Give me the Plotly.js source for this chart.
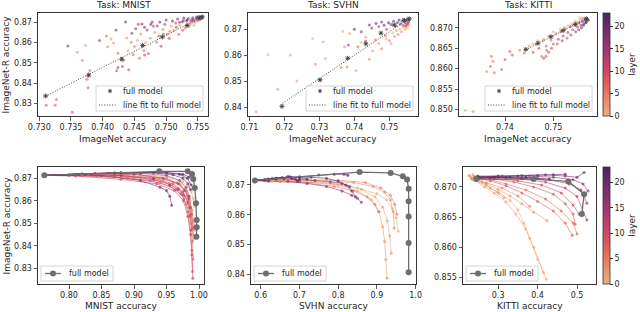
<!DOCTYPE html>
<html><head><meta charset="utf-8">
<script src="https://cdn.plot.ly/plotly-3.0.1.min.js"></script>
<style>html,body{margin:0;padding:0;background:#fff}#chart{width:640px;height:312px}</style>
</head><body><div id="chart"></div>
<script>
// ---------- top row: scatter of (ImageNet acc, ImageNet-R acc) coloured by layer ----------
const mnistTopX = [0.7311,0.7325,0.7327,0.7352,0.7345,0.7360,0.7373,0.7368,0.7377,0.7375,0.7377,0.7380,0.7395,0.7406,0.7408,0.7413,0.7421,0.7417,0.7424,0.7424,0.7422,0.7431,0.7433,0.7440,0.7441,0.7438,0.7445,0.7448,0.7450,0.7452,0.7455,0.7458,0.7460,0.7462,0.7465,0.7468,0.7470,0.7472,0.7475,0.7478,0.7480,0.7482,0.7485,0.7488,0.7490,0.7492,0.7495,0.7498,0.7500,0.7502,0.7505,0.7508,0.7510,0.7512,0.7515,0.7518,0.7520,0.7522,0.7525,0.7528,0.7530,0.7532,0.7535,0.7538,0.7540,0.7542,0.7545,0.7547,0.7548,0.7550,0.7552,0.7553,0.7555,0.7556,0.7557,0.7544,0.7536,0.7526,0.7516,0.7506,0.7496,0.7486,0.7476,0.7466,0.7456,0.7446,0.7436,0.7552,0.7549,0.7543,0.7539,0.7533,0.7527,0.7521,0.7554,0.7550,0.7546,0.7541,0.7534,0.7466];
const mnistTopY = [0.8290,0.8290,0.8318,0.8255,0.8583,0.8552,0.8585,0.8513,0.8435,0.8418,0.8376,0.8462,0.8610,0.8632,0.8579,0.8618,0.8662,0.8598,0.8547,0.8477,0.8461,0.8482,0.8512,0.8560,0.8465,0.8622,0.8601,0.8541,0.8581,0.8668,0.8611,0.8522,0.8642,0.8692,0.8561,0.8601,0.8662,0.8546,0.8621,0.8702,0.8681,0.8651,0.8602,0.8632,0.8701,0.8582,0.8666,0.8691,0.8711,0.8641,0.8621,0.8681,0.8706,0.8661,0.8696,0.8716,0.8641,0.8686,0.8701,0.8721,0.8671,0.8706,0.8719,0.8691,0.8713,0.8723,0.8701,0.8716,0.8726,0.8709,0.8721,0.8713,0.8727,0.8719,0.8724,0.8686,0.8679,0.8661,0.8676,0.8656,0.8642,0.8682,0.8691,0.8676,0.8691,0.8646,0.8702,0.8727,0.8719,0.8712,0.8705,0.8712,0.8708,0.8700,0.8717,0.8716,0.8708,0.8698,0.8695,0.8538];
const mnistTopLayer = [9,8,7,10,19,3,2,5,10,8,9,6,17,6,4,2,19,3,6,13,11,12,8,1,12,3,5,8,4,16,2,7,4,19,6,1,14,9,3,18,11,2,5,8,20,10,4,14,16,6,12,1,21,3,9,18,7,2,13,22,5,10,19,4,15,20,8,17,23,11,21,6,22,14,18,1,3,9,12,5,7,16,21,18,13,16,20,23,20,22,17,23,19,15,10,2,0,0,1,12];
const mnistFullTopX = [0.7310,0.7378,0.7430,0.7463,0.7494,0.7533,0.7552,0.7557];
const mnistFullTopY = [0.8336,0.8440,0.8518,0.8586,0.8628,0.8684,0.8722,0.8727];
const mnistFitX = [0.7310,0.7558];
const mnistFitY = [0.8335,0.8728];

const svhnTopX = [0.7119,0.7153,0.7181,0.7217,0.7236,0.7281,0.7289,0.7311,0.7317,0.7367,0.7386,0.7372,0.7362,0.7405,0.7379,0.7410,0.7420,0.7432,0.7443,0.7452,0.7460,0.7470,0.7478,0.7491,0.7500,0.7510,0.7515,0.7520,0.7525,0.7530,0.7535,0.7540,0.7545,0.7548,0.7552,0.7555,0.7489,0.7505,0.7443,0.7450,0.7462,0.7470,0.7478,0.7485,0.7492,0.7498,0.7505,0.7512,0.7518,0.7523,0.7528,0.7532,0.7537,0.7541,0.7545,0.7549,0.7552,0.7555,0.7557,0.7550,0.7540,0.7547,0.7553,0.7383,0.7420,0.7432,0.7400];
const svhnTopY = [0.8384,0.8602,0.8470,0.8601,0.8502,0.8664,0.8566,0.8652,0.8588,0.8692,0.8684,0.8633,0.8554,0.8542,0.8555,0.8633,0.8650,0.8670,0.8585,0.8617,0.8660,0.8645,0.8625,0.8663,0.8657,0.8686,0.8672,0.8695,0.8680,0.8701,0.8690,0.8708,0.8700,0.8712,0.8705,0.8715,0.8675,0.8645,0.8716,0.8705,0.8722,0.8710,0.8728,0.8715,0.8700,0.8725,0.8718,0.8730,0.8712,0.8726,0.8735,0.8720,0.8730,0.8738,0.8725,0.8733,0.8740,0.8728,0.8736,0.8720,0.8715,0.8712,0.8722,0.8640,0.8690,0.8655,0.8700];
const svhnTopLayer = [2,1,3,1,2,0,3,1,2,0,1,3,4,2,5,6,0,2,3,1,5,2,4,1,3,0,2,1,4,0,3,2,1,5,0,3,6,2,19,16,21,14,18,20,12,22,17,19,15,21,23,18,20,22,16,19,23,21,22,13,11,9,10,15,17,13,20];
const svhnFullTopX = [0.7193,0.7302,0.7381,0.7433,0.7476,0.7514,0.7543,0.7557];
const svhnFullTopY = [0.8405,0.8506,0.8589,0.8644,0.8685,0.8716,0.8734,0.8740];
const svhnFitX = [0.7195,0.7558];
const svhnFitY = [0.8417,0.8742];

const kittiTopX = [0.7318,0.7334,0.7372,0.7375,0.7370,0.7362,0.7378,0.7393,0.7400,0.7410,0.7415,0.7430,0.7440,0.7450,0.7458,0.7465,0.7470,0.7478,0.7485,0.7490,0.7495,0.7500,0.7505,0.7510,0.7515,0.7520,0.7525,0.7530,0.7535,0.7540,0.7545,0.7550,0.7553,0.7557,0.7560,0.7563,0.7566,0.7568,0.7570,0.7565,0.7559,0.7555,0.7549,0.7561,0.7554,0.7545,0.7538,0.7530,0.7522,0.7514,0.7500,0.7490,0.7480,0.7468,0.7458,0.7572,0.7567,0.7562,0.7558,0.7552,0.7546,0.7536,0.7528,0.7518,0.7508,0.7496,0.7486,0.7476,0.7480,0.7485];
const kittiTopY = [0.8498,0.8495,0.8630,0.8618,0.8605,0.8593,0.8590,0.8598,0.8622,0.8642,0.8633,0.8645,0.8638,0.8655,0.8640,0.8660,0.8650,0.8668,0.8655,0.8640,0.8670,0.8660,0.8685,0.8672,0.8690,0.8680,0.8698,0.8688,0.8703,0.8695,0.8708,0.8702,0.8712,0.8706,0.8715,0.8710,0.8718,0.8714,0.8720,0.8722,0.8722,0.8719,0.8714,0.8724,0.8725,0.8716,0.8710,0.8705,0.8700,0.8696,0.8690,0.8680,0.8672,0.8669,0.8660,0.8718,0.8712,0.8706,0.8700,0.8695,0.8690,0.8682,0.8675,0.8668,0.8660,0.8650,0.8645,0.8630,0.8625,0.8630];
const kittiTopLayer = [2,4,6,5,7,3,6,8,9,8,10,4,7,3,9,5,11,2,8,10,6,9,4,12,7,13,5,11,15,9,17,14,19,16,21,18,22,20,23,12,3,1,0,2,0,2,1,0,3,1,0,2,1,0,2,21,23,20,19,16,14,13,10,12,9,11,8,7,10,9];
const kittiFullTopX = [0.7443,0.7468,0.7495,0.7520,0.7545,0.7568];
const kittiFullTopY = [0.8647,0.8662,0.8678,0.8693,0.8708,0.8722];
const kittiFitX = [0.7443,0.7568];
const kittiFitY = [0.8646,0.8722];

// ---------- bottom row: one line per layer (task acc, ImageNet-R acc) ----------
const mnistLineLayers = [0,2,4,5,6,8,9,10,12,14,15,16,18,20,22,23];
const mnistLineX = [
 [0.762,0.86,0.93,0.96,0.975,0.983,0.988,0.991,0.993],
 [0.762,0.85,0.92,0.955,0.972,0.981,0.986,0.989,0.991,0.992],
 [0.762,0.84,0.91,0.95,0.970,0.980,0.985,0.988,0.990],
 [0.762,0.82,0.89,0.94,0.966,0.978,0.985,0.989,0.992,0.994],
 [0.762,0.83,0.90,0.945,0.968,0.979,0.985,0.988,0.990,0.991],
 [0.762,0.82,0.89,0.94,0.965,0.977,0.983,0.987,0.989,0.990],
 [0.762,0.80,0.87,0.925,0.955,0.972,0.981,0.986,0.989],
 [0.762,0.81,0.88,0.935,0.962,0.976,0.983,0.987,0.989,0.9905],
 [0.762,0.80,0.87,0.93,0.96,0.975,0.983,0.988,0.991],
 [0.762,0.82,0.90,0.945,0.968,0.978,0.984,0.987],
 [0.762,0.81,0.88,0.93,0.955,0.968,0.976],
 [0.762,0.84,0.91,0.95,0.97,0.98,0.985],
 [0.762,0.85,0.91,0.94,0.95,0.955,0.958],
 [0.762,0.86,0.93,0.96,0.975,0.983,0.987],
 [0.762,0.87,0.94,0.97,0.982,0.988],
 [0.762,0.88,0.95,0.975,0.985]];
const mnistLineY = [
 [0.8713,0.8718,0.8712,0.8700,0.8685,0.8665,0.8640,0.8610,0.8575],
 [0.8713,0.8716,0.8705,0.8690,0.8670,0.8640,0.8600,0.8550,0.8490,0.8430],
 [0.8713,0.8720,0.8715,0.8700,0.8675,0.8640,0.8590,0.8520,0.8450],
 [0.8713,0.8716,0.8712,0.8700,0.8680,0.8650,0.8610,0.8560,0.8510,0.8470],
 [0.8713,0.8714,0.8703,0.8685,0.8655,0.8620,0.8570,0.8500,0.8420,0.8340],
 [0.8713,0.8712,0.8700,0.8680,0.8650,0.8610,0.8550,0.8470,0.8380,0.8285],
 [0.8713,0.8712,0.8705,0.8690,0.8665,0.8630,0.8585,0.8530,0.8470],
 [0.8713,0.8710,0.8695,0.8675,0.8645,0.8600,0.8530,0.8450,0.8360,0.8255],
 [0.8713,0.8715,0.8712,0.8700,0.8675,0.8640,0.8595,0.8540,0.8480],
 [0.8713,0.8720,0.8718,0.8700,0.8675,0.8645,0.8610,0.8570],
 [0.8713,0.8718,0.8712,0.8695,0.8672,0.8650,0.8625],
 [0.8713,0.8722,0.8722,0.8712,0.8690,0.8660,0.8620],
 [0.8713,0.8712,0.8690,0.8660,0.8645,0.8620,0.8580],
 [0.8713,0.8722,0.8724,0.8715,0.8700,0.8675,0.8650],
 [0.8713,0.8724,0.8725,0.8718,0.8700,0.8670],
 [0.8713,0.8725,0.8726,0.8718,0.8705]];
const mnistFullX = [0.762,0.9389,0.9826,0.9892,0.9912,0.9935,0.9954,0.9965,0.9965,0.9960];
const mnistFullY = [0.8713,0.8731,0.8731,0.8719,0.8697,0.8657,0.8589,0.8514,0.8482,0.8440];

const svhnLineLayers = [0,1,2,3,4,5,16,18,19,20,21,22,23];
const svhnLineX = [
 [0.585,0.63,0.70,0.78,0.85,0.90,0.925,0.940,0.950,0.955],
 [0.585,0.66,0.74,0.81,0.86,0.895,0.915,0.927,0.933,0.937],
 [0.585,0.65,0.73,0.80,0.85,0.885,0.905,0.915,0.920,0.923,0.926],
 [0.585,0.68,0.77,0.84,0.89,0.92,0.935,0.942,0.945],
 [0.585,0.70,0.80,0.87,0.91,0.935,0.946,0.952],
 [0.585,0.65,0.72,0.79,0.84,0.875,0.895,0.905],
 [0.585,0.62,0.67,0.72,0.77,0.81,0.835,0.85,0.86],
 [0.585,0.62,0.66,0.70,0.74,0.78,0.81,0.83],
 [0.585,0.61,0.64,0.67,0.69,0.70],
 [0.585,0.63,0.68,0.73,0.77,0.80,0.82,0.835,0.845],
 [0.585,0.62,0.655,0.68,0.695],
 [0.585,0.64,0.70,0.75,0.79,0.815,0.825],
 [0.585,0.61,0.64,0.675,0.70,0.72]];
const svhnLineY = [
 [0.8715,0.8712,0.8710,0.8705,0.8690,0.8670,0.8650,0.8620,0.8590,0.8545],
 [0.8715,0.8713,0.8710,0.8702,0.8685,0.8660,0.8625,0.8580,0.8530,0.8471],
 [0.8715,0.8712,0.8708,0.8700,0.8680,0.8650,0.8610,0.8560,0.8510,0.8450,0.8387],
 [0.8715,0.8716,0.8714,0.8708,0.8695,0.8675,0.8650,0.8610,0.8555],
 [0.8715,0.8718,0.8716,0.8708,0.8690,0.8665,0.8635,0.8602],
 [0.8715,0.8711,0.8706,0.8695,0.8680,0.8660,0.8635,0.8610],
 [0.8715,0.8712,0.8712,0.8705,0.8695,0.8680,0.8665,0.8655,0.8642],
 [0.8715,0.8718,0.8720,0.8718,0.8715,0.8710,0.8705,0.8695],
 [0.8715,0.8716,0.8720,0.8728,0.8720,0.8712],
 [0.8715,0.8722,0.8725,0.8726,0.8722,0.8712,0.8700,0.8680,0.8660],
 [0.8715,0.8720,0.8725,0.8722,0.8712],
 [0.8715,0.8722,0.8727,0.8733,0.8736,0.8736,0.8732],
 [0.8715,0.8718,0.8722,0.8727,0.8724,0.8720]];
const svhnFullX = [0.585,0.8555,0.9355,0.967,0.978,0.982,0.982,0.982,0.982,0.982];
const svhnFullY = [0.8715,0.8743,0.8740,0.8729,0.8718,0.8687,0.8645,0.8594,0.8505,0.8407];

const kittiLineLayers = [0,1,2,3,4,6,7,8,10,12,14,16,18,20,22,23];
const kittiLineX = [
 [0.228,0.238,0.27,0.30,0.33,0.35,0.365,0.38,0.40,0.422],
 [0.232,0.242,0.265,0.29,0.32,0.345,0.37,0.39,0.415],
 [0.226,0.235,0.27,0.30,0.33,0.36,0.39,0.424],
 [0.236,0.245,0.26,0.28,0.30,0.315],
 [0.232,0.27,0.31,0.35,0.38],
 [0.240,0.28,0.32,0.37,0.42,0.46,0.49,0.500],
 [0.243,0.28,0.32,0.36,0.40,0.44,0.47,0.488],
 [0.240,0.29,0.34,0.39,0.44,0.47,0.49,0.495],
 [0.245,0.29,0.35,0.41,0.46,0.49,0.505],
 [0.245,0.30,0.36,0.42,0.47,0.50,0.525],
 [0.248,0.30,0.37,0.43,0.48,0.51,0.525],
 [0.248,0.31,0.38,0.44,0.49,0.515,0.528],
 [0.250,0.30,0.36,0.42,0.47,0.50,0.518],
 [0.250,0.30,0.35,0.40,0.44,0.47],
 [0.250,0.29,0.33,0.37,0.40,0.43],
 [0.250,0.28,0.32,0.36,0.39]];
const kittiLineY = [
 [0.8718,0.8712,0.8702,0.8692,0.8678,0.8662,0.8640,0.8615,0.8580,0.8547],
 [0.8716,0.8710,0.8700,0.8690,0.8675,0.8655,0.8630,0.8600,0.8558],
 [0.8719,0.8712,0.8705,0.8696,0.8685,0.8672,0.8658,0.8644],
 [0.8720,0.8715,0.8708,0.8698,0.8690,0.8682],
 [0.8714,0.8707,0.8698,0.8685,0.8668],
 [0.8716,0.8712,0.8705,0.8695,0.8680,0.8660,0.8640,0.8622],
 [0.8715,0.8710,0.8702,0.8690,0.8676,0.8660,0.8640,0.8620],
 [0.8716,0.8713,0.8708,0.8700,0.8688,0.8672,0.8655,0.8638],
 [0.8716,0.8714,0.8710,0.8703,0.8690,0.8670,0.8655],
 [0.8717,0.8716,0.8713,0.8708,0.8698,0.8684,0.8645],
 [0.8717,0.8717,0.8715,0.8712,0.8705,0.8695,0.8673],
 [0.8718,0.8718,0.8718,0.8716,0.8712,0.8705,0.8693],
 [0.8717,0.8718,0.8719,0.8720,0.8718,0.8716,0.8724],
 [0.8716,0.8717,0.8718,0.8719,0.8720,0.8721],
 [0.8715,0.8716,0.8716,0.8716,0.8714,0.8713],
 [0.8714,0.8715,0.8715,0.8714,0.8713]];
const kittiFullX = [0.245,0.39,0.478,0.518,0.512];
const kittiFullY = [0.8713,0.8713,0.8709,0.8688,0.8655];

const taskNames = ['MNIST','SVHN','KITTI'];
const legendTop = ['full model','line fit to full model'];
const legendBottom = ['full model'];
const layerMin = 0, layerMax = 23;
const colorbarTicks = [0,5,10,15,20];

// ---------- styling ----------
const FONT = 'DejaVu Sans';
const TXT = '#262626';
const FITDASH = '1px,1.6px';
const flare = [[0,'#edb081'],[1/7,'#e98d6b'],[2/7,'#e3685c'],[3/7,'#d14a61'],[4/7,'#b13c6c'],[5/7,'#8f3371'],[6/7,'#6c2b6d'],[1,'#4b2362']];
function hex2rgb(h){return [parseInt(h.slice(1,3),16),parseInt(h.slice(3,5),16),parseInt(h.slice(5,7),16)];}
function layerColor(l){
  const t=(l-layerMin)/(layerMax-layerMin);
  for(let i=1;i<flare.length;i++){
    if(t<=flare[i][0]){
      const a=flare[i-1],b=flare[i];const f=(t-a[0])/(b[0]-a[0]);
      const ca=hex2rgb(a[1]),cb=hex2rgb(b[1]);
      return 'rgb('+ca.map((v,k)=>Math.round(v+(cb[k]-v)*f)).join(',')+')';
    }
  }
  return flare[flare.length-1][1];
}
const W=640,H=312;
const PX=v=>v/W, PY=v=>1-v/H;
const px=(a,b)=>[a/W,b/W];
const py=(top,bot)=>[1-bot/H,1-top/H];
const panelsPx = [[38,208,13,116],[248,418,13,116],[459,597,13,116],[38,204,167,284],[251,416,167,284],[463,596,167,284]];
const panels = [
  {xr:[0.7298,0.7566], yr:[0.8237,0.8746], xdt:0.005, xf:'.3f', ydt:0.01, yf:'.2f'},
  {xr:[0.7096,0.7582], yr:[0.8368,0.8762], xdt:0.01, xf:'.2f', ydt:0.01, yf:'.2f'},
  {xr:[0.7305,0.7590], yr:[0.8484,0.8736], xdt:0.01, xf:'.2f', ydt:0.005, yf:'.3f'},
  {xr:[0.7523,1.0077], yr:[0.8230,0.8750], xdt:0.05, xf:'.2f', ydt:0.01, yf:'.2f'},
  {xr:[0.575,1.001], yr:[0.8368,0.8760], xdt:0.1, xf:'.1f', ydt:0.01, yf:'.2f'},
  {xr:[0.211,0.548], yr:[0.8539,0.8733], xdt:0.1, xf:'.1f', ydt:0.005, yf:'.3f'}
];
const layout = {width:W,height:H,margin:{l:0,r:0,t:0,b:0},paper_bgcolor:'#fff',plot_bgcolor:'#fff',showlegend:false,
  font:{family:FONT,size:8,color:TXT}, annotations:[], shapes:[]};
panels.forEach((p,i)=>{
  const n=i+1, xs='xaxis'+(n===1?'':n), ys='yaxis'+(n===1?'':n), b=panelsPx[i];
  const base={showline:true,mirror:true,linecolor:'#333',linewidth:1,ticks:'outside',ticklen:3.5,tickwidth:0.8,tickcolor:'#333',
    showgrid:false,zeroline:false,tickfont:{family:FONT,size:8,color:TXT},automargin:false,fixedrange:true};
  layout[xs]=Object.assign({},base,{domain:px(b[0],b[1]),range:p.xr,dtick:p.xdt,tick0:0,tickformat:p.xf,anchor:'y'+(n===1?'':n)});
  layout[ys]=Object.assign({},base,{domain:py(b[2],b[3]),range:p.yr,dtick:p.ydt,tick0:0,tickformat:p.yf,anchor:'x'+(n===1?'':n)});
});
// titles
const cx=i=>PX((panelsPx[i][0]+panelsPx[i][1])/2);
const ann=(text,x,y,o)=>layout.annotations.push(Object.assign({text:text,x:x,y:y,xref:'paper',yref:'paper',showarrow:false,
  font:{size:9,color:TXT,family:FONT},xanchor:'center',yanchor:'middle'},o||{}));
taskNames.forEach((t,i)=>{
  ann('Task: '+t,cx(i),PY(5));
  ann('ImageNet accuracy',cx(i),PY(139));
  ann(t+' accuracy',cx(i+3),PY(306));
});
[[13,116],[167,284]].forEach(r=>ann('ImageNet-R accuracy',PX(6),PY((r[0]+r[1])/2),{textangle:-90}));

// custom compact legends (matplotlib-like)
const shp=s=>layout.shapes.push(Object.assign({xref:'paper',yref:'paper',layer:'above'},s));
for(let i=0;i<3;i++){
  const R=panelsPx[i][1]-5, L=R-107, T=86, B=111;
  shp({type:'rect',x0:PX(L),x1:PX(R),y0:PY(B),y1:PY(T),fillcolor:'rgba(255,255,255,0.8)',line:{color:'#cccccc',width:0.8}});
  const sx=L+14, sy=T+5;
  [[0,2.2],[1.9,1.1],[1.9,-1.1]].forEach(d=>shp({type:'line',x0:PX(sx-d[0]),x1:PX(sx+d[0]),y0:PY(sy-d[1]),y1:PY(sy+d[1]),line:{color:'#444',width:1}}));
  shp({type:'line',x0:PX(L+3),x1:PX(L+20),y0:PY(T+19),y1:PY(T+19),line:{color:'#333',width:0.9,dash:FITDASH}});
  ann(legendTop[0],PX(L+25),PY(T+5),{xanchor:'left',font:{size:8,color:TXT,family:FONT}});
  ann(legendTop[1],PX(L+25),PY(T+19),{xanchor:'left',font:{size:8,color:TXT,family:FONT}});
}
for(let i=3;i<6;i++){
  const L=panelsPx[i][0]+3, R=L+72, T=266, B=281, cyy=(T+B)/2;
  shp({type:'rect',x0:PX(L),x1:PX(R),y0:PY(B),y1:PY(T),fillcolor:'rgba(255,255,255,0.8)',line:{color:'#cccccc',width:0.8}});
  shp({type:'line',x0:PX(L+4),x1:PX(L+20),y0:PY(cyy),y1:PY(cyy),line:{color:'#6e6e6e',width:1.3}});
  shp({type:'circle',x0:PX(L+9),x1:PX(L+15),y0:PY(cyy+3),y1:PY(cyy-3),fillcolor:'#6e6e6e',line:{color:'#6e6e6e',width:0}});
  ann(legendBottom[0],PX(L+26),PY(cyy),{xanchor:'left',font:{size:8,color:TXT,family:FONT}});
}

const traces=[];
const ax=n=>({xaxis:'x'+(n===1?'':n),yaxis:'y'+(n===1?'':n)});
const cbar=(top,bot)=>({x:603/W,xanchor:'left',xpad:0,y:1-top/H,yanchor:'top',ypad:0,len:(bot-top)/H,lenmode:'fraction',thickness:7,thicknessmode:'pixels',
  outlinewidth:0.8,outlinecolor:'#333',ticks:'outside',ticklen:3,tickcolor:'#333',tickvals:colorbarTicks,tickfont:{size:8,color:TXT},
  title:{text:'layer',side:'right',font:{size:9,color:TXT}}});

const tops=[[mnistTopX,mnistTopY,mnistTopLayer,mnistFullTopX,mnistFullTopY,mnistFitX,mnistFitY],
            [svhnTopX,svhnTopY,svhnTopLayer,svhnFullTopX,svhnFullTopY,svhnFitX,svhnFitY],
            [kittiTopX,kittiTopY,kittiTopLayer,kittiFullTopX,kittiFullTopY,kittiFitX,kittiFitY]];
tops.forEach((d,i)=>{
  const n=i+1;
  traces.push(Object.assign({type:'scatter',mode:'markers',x:d[0],y:d[1],showlegend:false,hoverinfo:'skip',
    marker:{size:3,color:d[2],colorscale:flare,cmin:layerMin,cmax:layerMax,opacity:0.6,line:{width:0},
      showscale:i===2, colorbar:i===2?cbar(13,116):undefined}},ax(n)));
  traces.push(Object.assign({type:'scatter',mode:'lines',x:d[5],y:d[6],name:legendTop[1],
    line:{color:'#333',width:0.9,dash:FITDASH}},ax(n)));
  traces.push(Object.assign({type:'scatter',mode:'markers',x:d[3],y:d[4],name:legendTop[0],
    marker:{symbol:'asterisk-open',size:4,color:'#444',line:{width:1,color:'#444'}}},ax(n)));
});
const bots=[[mnistLineLayers,mnistLineX,mnistLineY,mnistFullX,mnistFullY],
            [svhnLineLayers,svhnLineX,svhnLineY,svhnFullX,svhnFullY],
            [kittiLineLayers,kittiLineX,kittiLineY,kittiFullX,kittiFullY]];
bots.forEach((d,i)=>{
  const n=i+4;
  const allX=[],allY=[],allL=[];
  d[0].forEach((l,k)=>{
    traces.push(Object.assign({type:'scatter',mode:'lines',x:d[1][k],y:d[2][k],showlegend:false,hoverinfo:'skip',opacity:0.6,
      line:{color:layerColor(l),width:1}},ax(n)));
    d[1][k].forEach((v,j)=>{allX.push(v);allY.push(d[2][k][j]);allL.push(l);});
  });
  traces.push(Object.assign({type:'scatter',mode:'markers',x:allX,y:allY,showlegend:false,hoverinfo:'skip',
    marker:{size:3,color:allL,colorscale:flare,cmin:layerMin,cmax:layerMax,opacity:0.7,line:{width:0},
      showscale:i===2, colorbar:i===2?cbar(167,284):undefined}},ax(n)));
  traces.push(Object.assign({type:'scatter',mode:'lines+markers',x:d[3],y:d[4],name:legendBottom[0],
    line:{color:'#6e6e6e',width:1.3},marker:{size:6,color:'#6e6e6e'}},ax(n)));
});
Plotly.newPlot('chart',traces,layout,{staticPlot:true,displayModeBar:false});
</script></body></html>
